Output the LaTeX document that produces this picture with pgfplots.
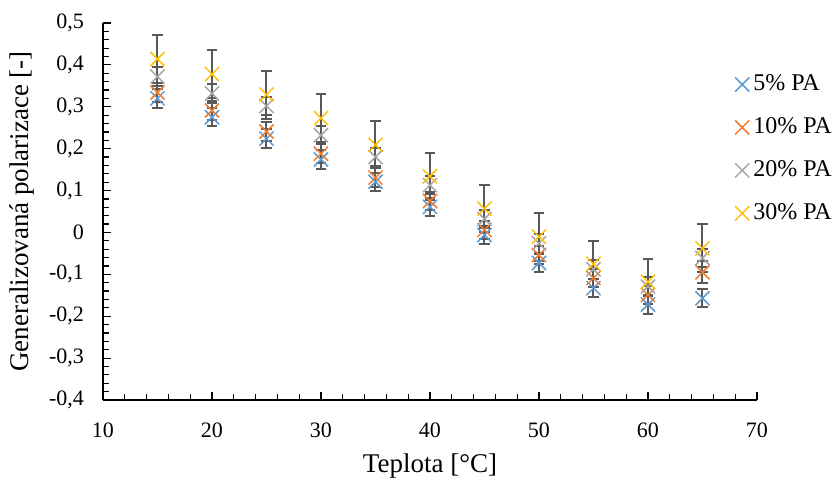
\documentclass[border=0pt]{standalone}
\usepackage{fontspec}
\setmainfont{Liberation Serif}
\usepackage{pgfplots}
\pgfplotsset{compat=1.18}
\definecolor{cblue}{HTML}{5B9BD5}
\definecolor{corange}{HTML}{ED7D31}
\definecolor{cgray}{HTML}{A5A5A5}
\definecolor{cyellow}{HTML}{FFC000}
\definecolor{cerr}{HTML}{595959}
\begin{document}
\begin{tikzpicture}
\path[use as bounding box] (-51.5pt,-40.5pt) rectangle (367pt,200pt);
\begin{axis}[
  scale only axis,
  width=327pt, height=188.5pt,
  xmin=10, xmax=70, ymin=-0.4, ymax=0.5,
  axis x line*=bottom, axis y line*=left,
  xtick={10,20,...,70}, ytick={-0.4,-0.3,...,0.5},
  minor x tick num=4, minor y tick num=4,
  tick align=inside,
  major tick length=4pt, minor tick length=3pt,
  tick style={black, line width=0.6pt},
  axis line style={black, line width=0.7pt},
  /pgf/number format/assume math mode=true,
  /pgf/number format/use comma,
  /pgf/number format/fixed,
  yticklabel style={font=\fontsize{11}{13}\selectfont, xshift=-6pt},
  xticklabel style={font=\fontsize{11}{13}\selectfont, yshift=-8pt},
  xlabel={Teplota [°C]},
  ylabel={Generalizovaná polarizace [-]},
  every axis x label/.style={at={(axis description cs:0.5,-0.175)}, anchor=center, font=\fontsize{13.5}{15}\selectfont},
  every axis y label/.style={at={(axis description cs:-0.1239,0.5)}, anchor=center, rotate=90, font=\fontsize{13.5}{15}\selectfont},
  legend style={at={(0.966,0.666)}, anchor=west, draw=none, fill=none, font=\fontsize{12}{13}\selectfont, row sep=8pt, inner sep=0pt},
  legend cell align=left,
  error bars/y dir=both, error bars/y explicit,
  error bars/error bar style={cerr, line width=1pt},
  error bars/error mark options={cerr, line width=1pt, mark size=2.6pt, rotate=90},
  every axis plot/.append style={only marks, mark=x, mark size=5pt, line width=0.75pt},
]
\addplot[cblue, mark options={cblue}] table[y error=e] {
x y e
15 0.320 0.022
20 0.275 0.022
25 0.224 0.022
30 0.174 0.022
35 0.121 0.022
40 0.061 0.022
45 -0.006 0.022
50 -0.073 0.022
55 -0.133 0.022
60 -0.172 0.022
65 -0.157 0.022
};
\addlegendentry{5\% PA}
\addplot[corange, mark options={corange}] table[y error=e] {
x y e
15 0.334 0.022
20 0.291 0.022
25 0.241 0.022
30 0.188 0.022
35 0.131 0.022
40 0.075 0.022
45 0.006 0.022
50 -0.054 0.022
55 -0.109 0.022
60 -0.149 0.022
65 -0.095 0.026
};
\addlegendentry{10\% PA}
\addplot[cgray, mark options={cgray}] table[y error=e] {
x y e
15 0.372 0.022
20 0.332 0.022
25 0.302 0.022
30 0.232 0.022
35 0.180 0.022
40 0.113 0.022
45 0.032 0.022
50 -0.026 0.022
55 -0.088 0.022
60 -0.129 0.022
65 -0.061 0.022
};
\addlegendentry{20\% PA}
\addplot[cyellow, mark options={cyellow}] table[y error=e] {
x y e
15 0.414 0.057
20 0.378 0.057
25 0.329 0.057
30 0.273 0.057
35 0.209 0.056
40 0.134 0.056
45 0.057 0.056
50 -0.010 0.057
55 -0.075 0.055
60 -0.118 0.054
65 -0.038 0.057
};
\addlegendentry{30\% PA}
\end{axis}
\end{tikzpicture}
\end{document}
